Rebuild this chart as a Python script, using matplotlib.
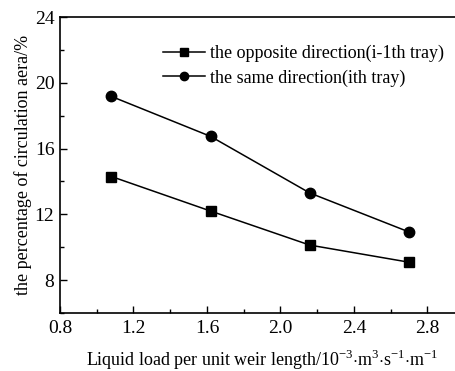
import matplotlib
matplotlib.use("Agg")
import matplotlib.pyplot as plt
from matplotlib.ticker import MultipleLocator

plt.rcParams["font.family"] = ["Liberation Serif", "DejaVu Serif"]
plt.rcParams["mathtext.fontset"] = "custom"
plt.rcParams["mathtext.rm"] = "Liberation Serif"

carga = [1.08, 1.62, 2.16, 2.70]
oposta = [14.3, 12.2, 10.13, 9.09]
mesma = [19.17, 16.74, 13.3, 10.93]

fig = plt.figure(figsize=(4.56, 3.71), dpi=100)
# the right edge of the frame falls outside the picture, as in the original
ax = fig.add_axes([60 / 456, 1 - 313 / 371, 404 / 456, 296 / 371])

ax.plot(carga, oposta, color="black", marker="s", markersize=6.5, lw=1.1,
        label="the opposite direction(i-1th tray)")
ax.plot(carga, mesma, color="black", marker="o", markersize=7.5, lw=1.1,
        label="the same direction(ith tray)")

ax.set_xlim(0.8, 3.0)
ax.set_ylim(6, 24)
ax.xaxis.set_minor_locator(MultipleLocator(0.2))
ax.yaxis.set_major_locator(MultipleLocator(4))
ax.yaxis.set_minor_locator(MultipleLocator(2))
ax.set_xticks([0.8, 1.2, 1.6, 2.0, 2.4, 2.8])
ax.set_xticklabels(["0.8", "1.2", "1.6", "2.0", "2.4", "2.8"])
ax.tick_params(which="both", direction="in", labelsize=14, width=1)
ax.tick_params(which="major", length=5)
ax.tick_params(which="minor", length=3)
ax.tick_params(axis="x", pad=5)
ax.tick_params(axis="y", pad=4)
for s in ax.spines.values():
    s.set_linewidth(1.2)

ax.set_xlabel("Liquid load per unit weir length/10$^{\\mathrm{-3}}$$\\cdot$m$^{\\mathrm{3}}$"
              "$\\cdot$s$^{\\mathrm{-1}}$$\\cdot$m$^{\\mathrm{-1}}$",
              fontsize=13, labelpad=8)
ax.set_ylabel("the percentage of circulation aera/%", fontsize=13, labelpad=2)

ax.legend(loc="upper left", bbox_to_anchor=(0.215, 0.96), frameon=False,
          fontsize=13, handlelength=2.3, handletextpad=0.3, labelspacing=0.38,
          markerscale=0.8)

fig.savefig("out.png", dpi=100)
